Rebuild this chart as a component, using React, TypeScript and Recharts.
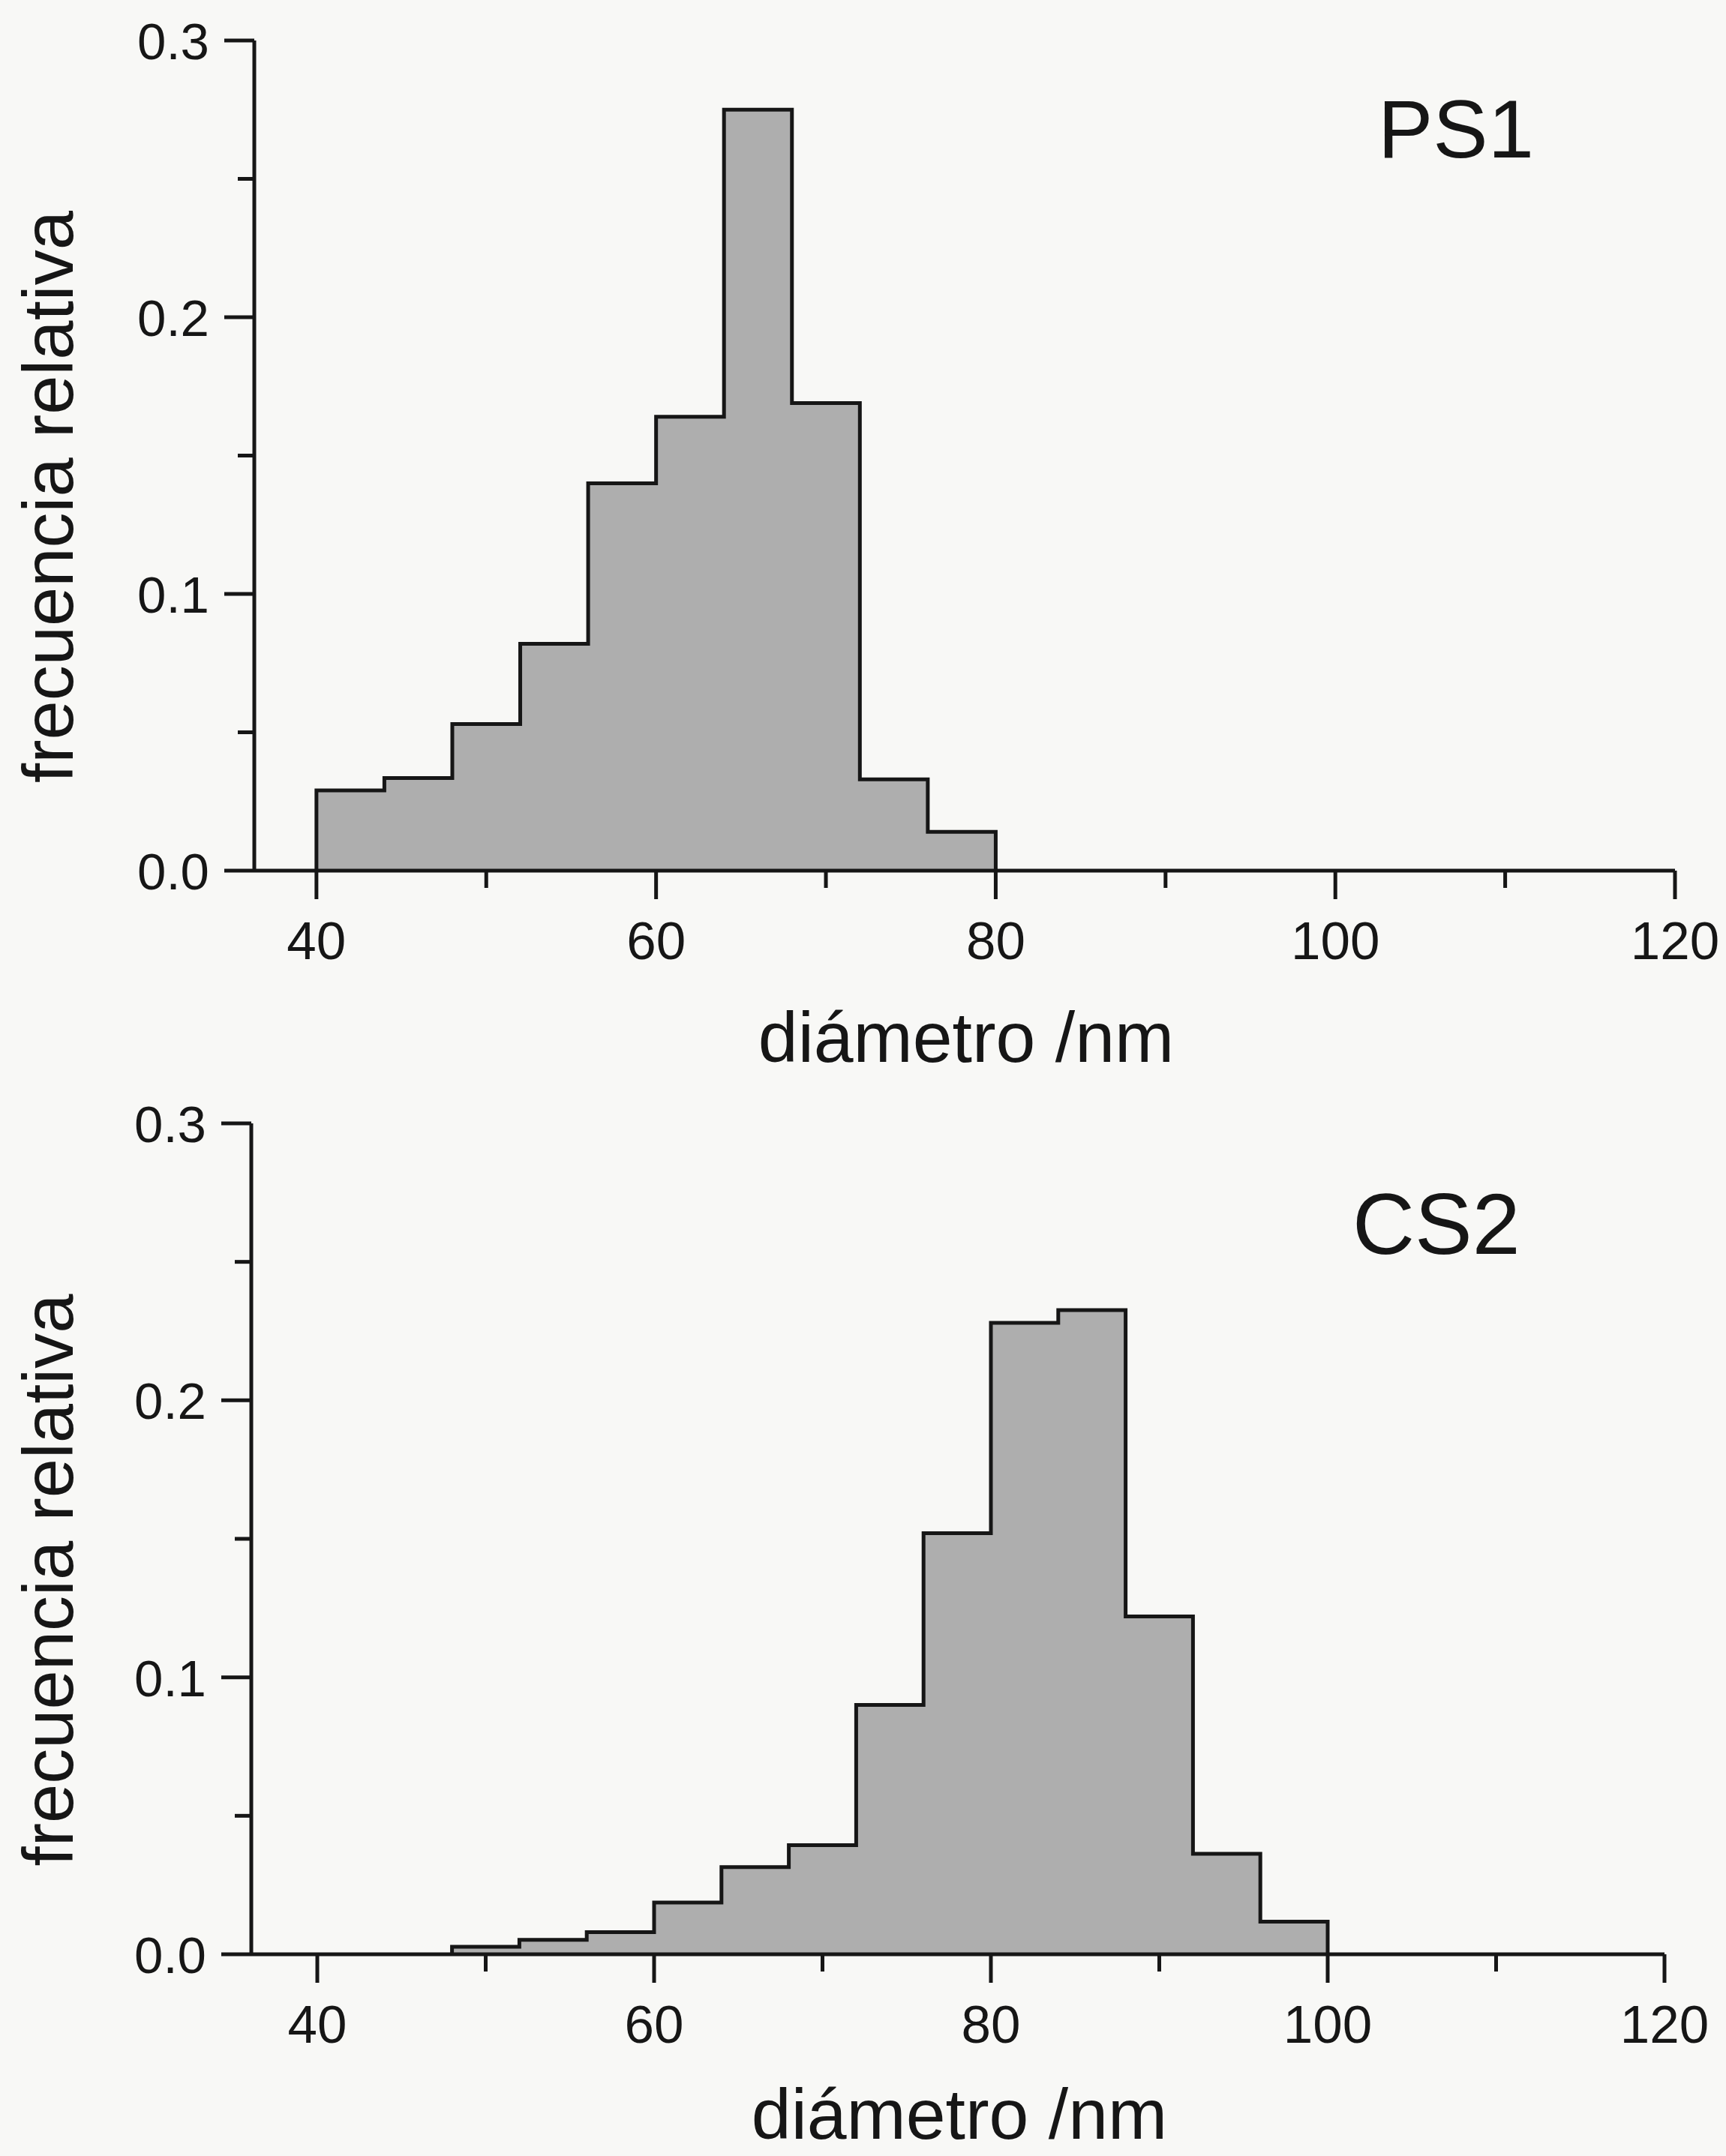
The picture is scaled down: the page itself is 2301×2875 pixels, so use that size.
import React from 'react';
import { ComposedChart, Area, XAxis, YAxis, Label } from 'recharts';

// bin edges (nm) and relative frequency per bin
const ps1Edges = [40, 44, 48, 52, 56, 60, 64, 68, 72, 76, 80];
const ps1Freq = [0.029, 0.0335, 0.053, 0.082, 0.14, 0.164, 0.275, 0.169, 0.033, 0.014];

const cs2Edges = [48, 52, 56, 60, 64, 68, 72, 76, 80, 84, 88, 92, 96, 100];
const cs2Freq = [0.0027, 0.0052, 0.008, 0.0187, 0.0315, 0.0394, 0.09, 0.152, 0.228, 0.2326, 0.122, 0.0363, 0.0118];

const xTicks = [40, 50, 60, 70, 80, 90, 100, 110, 120];
const xMajor = [40, 60, 80, 100, 120];
const yTicks = [0, 0.05, 0.1, 0.15, 0.2, 0.25, 0.3];
const yMajor = [0, 0.1, 0.2, 0.3];

const FONT = '"Liberation Sans", Arial, Helvetica, sans-serif';
const INK = '#161616';

// step outline points for the histogram (stepAfter curve)
function toSteps(edges: number[], freq: number[]) {
  const pts = [{ x: edges[0], y: 0 }];
  freq.forEach((f, i) => pts.push({ x: edges[i], y: f }));
  pts.push({ x: edges[edges.length - 1], y: 0 });
  return pts;
}

const isIn = (list: number[], v: number) => list.some((m) => Math.abs(m - v) < 1e-9);

const YTick = (props: any) => {
  const { x, y, payload } = props;
  const v = payload.value;
  const major = isIn(yMajor, v);
  return (
    <g>
      <line x1={x} x2={x - (major ? 40 : 22)} y1={y} y2={y} stroke={INK} strokeWidth={5} />
      {major && (
        <text x={x - 60} y={y} dy="0.36em" textAnchor="end" fontSize={69} fontFamily={FONT} fill={INK}>
          {v.toFixed(1)}
        </text>
      )}
    </g>
  );
};

const XTick = (props: any) => {
  const { x, y, payload } = props;
  const v = payload.value;
  const major = isIn(xMajor, v);
  return (
    <g>
      <line x1={x} x2={x} y1={y} y2={y + (major ? 38 : 23)} stroke={INK} strokeWidth={5} />
      {major && (
        <text x={x} y={y + 118} textAnchor="middle" fontSize={71} fontFamily={FONT} fill={INK}>
          {v}
        </text>
      )}
    </g>
  );
};

type PanelProps = {
  edges: number[];
  freq: number[];
  name: string;
  height: number;
  top: number;
  right: number;
  yAxisWidth: number;
  xMin: number;
  plotBottom: number;
  titleOffset: number;
  nameX: number;
  nameY: number;
  nameSize: number;
};

function Panel(p: PanelProps) {
  const data = toSteps(p.edges, p.freq);
  return (
    <ComposedChart
      width={2301}
      height={p.height}
      data={data}
      margin={{ top: p.top, right: p.right, left: 0, bottom: 0 }}
    >
      <Area
        type="stepAfter"
        dataKey="y"
        stroke={INK}
        strokeWidth={5}
        fill="#aeaeae"
        fillOpacity={1}
        isAnimationActive={false}
        dot={false}
        activeDot={false}
      />
      <XAxis
        type="number"
        dataKey="x"
        domain={[p.xMin, 120]}
        allowDataOverflow
        ticks={xTicks}
        interval={0}
        height={p.height - p.plotBottom}
        tickSize={0}
        tickMargin={0}
        tickLine={false}
        axisLine={{ stroke: INK, strokeWidth: 5 }}
        tick={<XTick />}
      >
        <Label
          content={(lp: any) => {
            const vb = lp.viewBox;
            return (
              <text
                x={vb.x + vb.width / 2 + 2}
                y={vb.y + p.titleOffset}
                textAnchor="middle"
                fontSize={95}
                fontFamily={FONT}
                fill={INK}
              >
                diámetro /nm
              </text>
            );
          }}
        />
      </XAxis>
      <YAxis
        type="number"
        domain={[0, 0.3]}
        allowDataOverflow
        ticks={yTicks}
        interval={0}
        width={p.yAxisWidth}
        tickSize={0}
        tickMargin={0}
        tickLine={false}
        axisLine={{ stroke: INK, strokeWidth: 5 }}
        tick={<YTick />}
      >
        <Label
          content={(lp: any) => {
            const vb = lp.viewBox;
            const cy = vb.y + vb.height / 2 + 55;
            return (
              <text
                transform="rotate(-90)"
                x={-cy}
                y={97}
                textAnchor="middle"
                fontSize={94}
                fontFamily={FONT}
                fill={INK}
              >
                frecuencia relativa
              </text>
            );
          }}
        />
        <Label
          content={() => (
            <text x={p.nameX} y={p.nameY} fontSize={p.nameSize} fontFamily={FONT} fill={INK}>
              {p.name}
            </text>
          )}
        />
      </YAxis>
    </ComposedChart>
  );
}

export default function App() {
  return (
    <div
      style={{
        position: 'absolute',
        left: 0,
        top: 0,
        width: 2301,
        height: 2875,
        background: '#f8f8f6',
        overflow: 'hidden',
      }}
    >
      <div style={{ position: 'absolute', left: 0, top: 0 }}>
        <Panel
          edges={ps1Edges}
          freq={ps1Freq}
          name="PS1"
          height={1437}
          top={54}
          right={68}
          yAxisWidth={339}
          xMin={36.34}
          plotBottom={1161}
          titleOffset={255}
          nameX={1837}
          nameY={210}
          nameSize={110}
        />
      </div>
      <div style={{ position: 'absolute', left: 0, top: 1437 }}>
        <Panel
          edges={cs2Edges}
          freq={cs2Freq}
          name="CS2"
          height={1438}
          top={61}
          right={82}
          yAxisWidth={335}
          xMin={36.08}
          plotBottom={1169}
          titleOffset={246}
          nameX={1803}
          nameY={235}
          nameSize={115}
        />
      </div>
    </div>
  );
}
